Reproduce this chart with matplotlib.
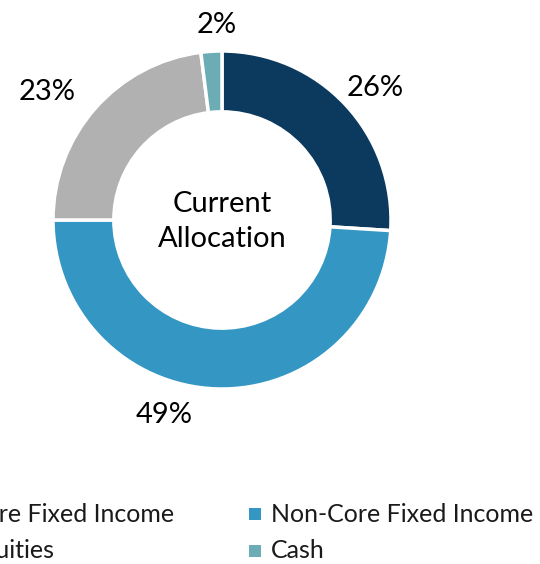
import matplotlib
matplotlib.use("Agg")
import matplotlib.pyplot as plt
from matplotlib.patches import Rectangle

categories = ["Core Fixed Income", "Non-Core Fixed Income", "Equities", "Cash"]
values = [26, 49, 23, 2]
labels = ["26%", "49%", "23%", "2%"]
colors = ["#0C3A5E", "#3496C3", "#B1B1B1", "#6BACB5"]

plt.rcParams['font.family'] = ['Lato', 'DejaVu Sans']

W, H = 540, 564
fig = plt.figure(figsize=(W / 100, H / 100), dpi=100)
cx, cy, R = 222, 220, 169
ax = fig.add_axes([0, 0, 1, 1])

wedges, _ = ax.pie(values, colors=colors, startangle=90, counterclock=False,
                   radius=1.0,
                   wedgeprops=dict(width=0.36, edgecolor='white', linewidth=2.5))
ax.set_xlim(-cx / R, (W - cx) / R)
ax.set_ylim(-(H - cy) / R, cy / R)
ax.set_aspect('equal')
ax.axis('off')

# label positions (pixel offsets from centre)
label_pos = [(153, 132), (-58, -195), (-175, 128), (-5, 195)]
for (dx, dy), t in zip(label_pos, labels):
    ax.text(dx / R, dy / R, t, ha='center', va='center', fontsize=21, color='#000000')

ax.text(0, -1.5 / R, "Current\nAllocation", ha='center', va='center', fontsize=21,
        linespacing=1.45, color='#000000')

# legend, row-major
col_x = [-54, 249]
row_y = [514, 551]
msize = 12
for i, (name, c) in enumerate(zip(categories, colors)):
    r, col = divmod(i, 2)
    x = col_x[col]
    y = row_y[r]
    fig.patches.append(Rectangle((x / W, 1 - (y + msize / 2) / H), msize / W, msize / H,
                                 transform=fig.transFigure, facecolor=c, edgecolor='none'))
    fig.text((x + 22) / W, 1 - y / H, name, ha='left', va='center', fontsize=18, color='#1a1a1a')

fig.savefig("out.png", dpi=100)
